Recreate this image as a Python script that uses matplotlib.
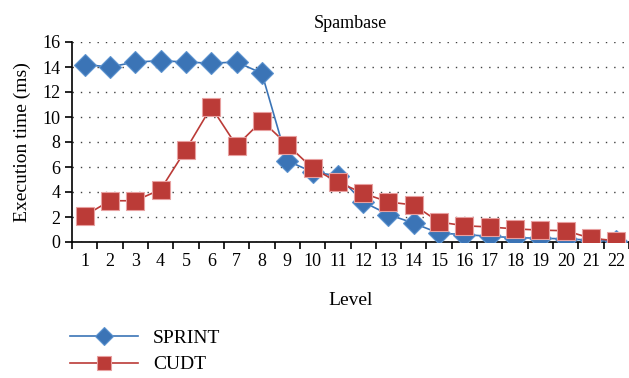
import matplotlib.pyplot as plt

levels = list(range(1, 23))
sprint = [14.2, 14.0, 14.4, 14.5, 14.4, 14.3, 14.4, 13.5, 6.5, 5.6, 5.3, 3.2, 2.2, 1.5,
          0.7, 0.6, 0.45, 0.35, 0.3, 0.25, 0.15, 0.05]
cudt = [2.1, 3.3, 3.3, 4.2, 7.4, 10.8, 7.7, 9.7, 7.8, 5.9, 4.8, 3.9, 3.2, 2.96,
        1.6, 1.3, 1.2, 1.05, 0.95, 0.9, 0.3, 0.1]
yticks = list(range(0, 17, 2))

plt.rcParams['font.family'] = ['Liberation Serif', 'DejaVu Serif']

fig = plt.figure(figsize=(6.29, 3.78), dpi=100)
ax = fig.add_axes([72 / 629, 1 - 242 / 378, 557 / 629, 200 / 378])

blue = '#3b74b6'
red = '#bb3b37'
ax.plot(levels, sprint, color=blue, lw=1.2, marker='D', markersize=11,
        markerfacecolor=blue, markeredgecolor='#5b92cf', markeredgewidth=0.8,
        label='SPRINT', zorder=3)
ax.plot(levels, cudt, color=red, lw=1.2, marker='s', markersize=13,
        markerfacecolor=red, markeredgecolor='#e8a0a0', markeredgewidth=0.8,
        label='CUDT', zorder=4)

ax.set_xlim(0.5, 22.5)
ax.set_ylim(0, 16)
ax.set_yticks(yticks)
ax.set_xticks(levels)
ax.set_xticks([x + 0.5 for x in range(0, 23)], minor=True)
ax.tick_params(axis='x', which='major', length=0, labelsize=13, pad=8)
ax.tick_params(axis='x', which='minor', length=5, width=1.2, direction='out')
ax.tick_params(axis='y', length=5, width=1.2, labelsize=13, direction='out')
ax.grid(axis='y', color='#404040', linestyle=(0, (1, 5)), linewidth=1)
for s in ['top', 'right']:
    ax.spines[s].set_visible(False)
ax.spines['left'].set_linewidth(1.2)
ax.spines['bottom'].set_linewidth(1.2)

ax.set_title('Spambase', fontsize=13, pad=10)
ax.set_ylabel('Execution time (ms)', fontsize=14, labelpad=8)
ax.set_xlabel('Level', fontsize=14, labelpad=16)

fig.legend(loc='upper left', bbox_to_anchor=(52 / 629, 1 - 312 / 378), frameon=False,
           fontsize=14, handlelength=3.5, labelspacing=0.45, markerscale=0.8,
           handletextpad=0.8)

fig.savefig('out.png', dpi=100)
